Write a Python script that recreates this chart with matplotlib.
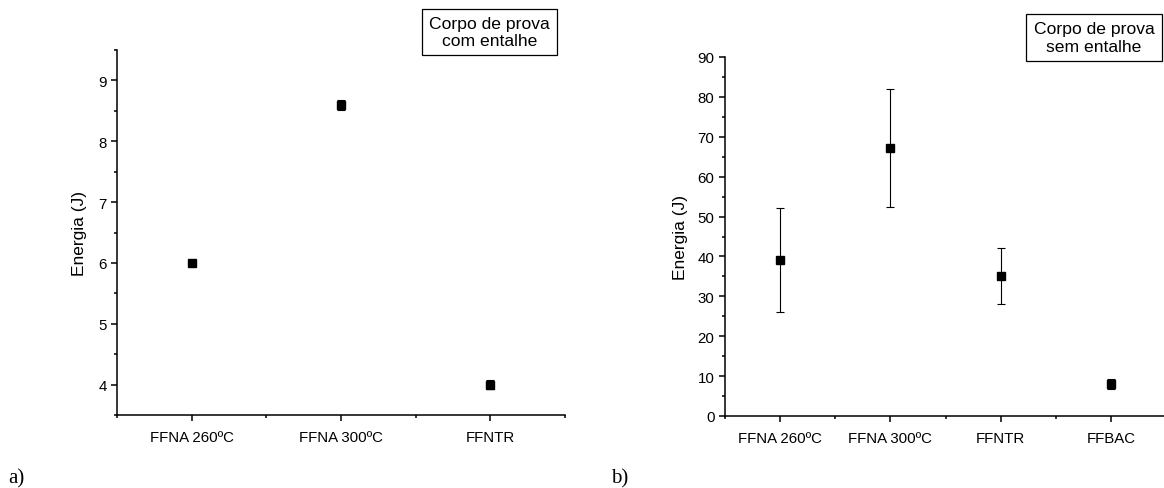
import matplotlib
matplotlib.use("Agg")
import matplotlib.pyplot as plt
from matplotlib.patches import Rectangle
from matplotlib.ticker import MultipleLocator, FixedLocator

plt.rcParams['font.family'] = ['Liberation Sans', 'DejaVu Sans']

# Data
cats_a = ["FFNA 260ºC", "FFNA 300ºC", "FFNTR"]
vals_a = [6.0, 8.6, 4.0]
errs_a = [0.0, 0.08, 0.08]

cats_b = ["FFNA 260ºC", "FFNA 300ºC", "FFNTR", "FFBAC"]
vals_b = [39.1, 67.2, 35.1, 8.0]
errs_b = [13.1, 14.7, 7.1, 1.2]

W, H = 1164, 489
fig = plt.figure(figsize=(W/100, H/100), dpi=100)

def px_axes(x0, x1, ytop, ybot):
    return fig.add_axes([x0/W, (H-ybot)/H, (x1-x0)/W, (ybot-ytop)/H])

def style(ax):
    for s in ['top', 'right']:
        ax.spines[s].set_visible(False)
    for s in ['left', 'bottom']:
        ax.spines[s].set_linewidth(1.1)
    ax.tick_params(which='major', length=4.5, width=1.1, labelsize=10.8, pad=3)
    ax.tick_params(axis='x', which='major', pad=6)
    ax.tick_params(which='minor', length=2.5, width=1.1)
    ax.set_ylabel("Energia (J)", fontsize=12.5)

axa = px_axes(117, 565, 51, 416)
xa = list(range(1, len(cats_a)+1))
axa.errorbar(xa, vals_a, yerr=errs_a, fmt='s', color='black', ms=5.8,
             ecolor='black', elinewidth=0.8, capsize=2.6, capthick=0.8)
axa.set_xlim(0.5, len(cats_a)+0.5)
axa.set_ylim(3.5, 9.5)
axa.set_xticks(xa)
axa.set_xticklabels(cats_a)
axa.xaxis.set_minor_locator(FixedLocator([i+0.5 for i in range(0, len(cats_a)+1)]))
axa.yaxis.set_major_locator(MultipleLocator(1))
axa.yaxis.set_minor_locator(MultipleLocator(0.5))
style(axa)
axa.yaxis.set_label_coords(-0.066, 0.5)
axa.set_yticks([4, 5, 6, 7, 8, 9])

axb = px_axes(725, 1166, 58, 417)
xb = list(range(1, len(cats_b)+1))
axb.errorbar(xb, vals_b, yerr=errs_b, fmt='s', color='black', ms=5.8,
             ecolor='black', elinewidth=0.8, capsize=2.6, capthick=0.8)
axb.set_xlim(0.5, len(cats_b)+0.5)
axb.set_ylim(0, 90)
axb.set_xticks(xb)
axb.set_xticklabels(cats_b)
axb.xaxis.set_minor_locator(FixedLocator([i+0.5 for i in range(0, len(cats_b)+1)]))
axb.yaxis.set_major_locator(MultipleLocator(10))
axb.yaxis.set_minor_locator(MultipleLocator(5))
style(axb)
axb.yaxis.set_label_coords(-0.085, 0.5)

def box(x0, x1, y0, y1, text):
    fig.patches.append(Rectangle((x0/W, (H-y1)/H), (x1-x0)/W, (y1-y0)/H,
                                 transform=fig.transFigure, fill=False,
                                 edgecolor='black', linewidth=0.9))
    fig.text((x0+x1)/2/W, (H-(y0+y1)/2)/H, text, ha='center', va='center',
             fontsize=12.6, linespacing=1.25)

box(422, 557, 10, 56, "Corpo de prova\ncom entalhe")
box(1026, 1162, 15, 62, "Corpo de prova\nsem entalhe")

fig.text(8/W, (H-483)/H, "a)", fontsize=15, family='Liberation Serif', ha='left', va='baseline')
fig.text(611/W, (H-483)/H, "b)", fontsize=15, family='Liberation Serif', ha='left', va='baseline')

fig.savefig("out.png", dpi=100)
